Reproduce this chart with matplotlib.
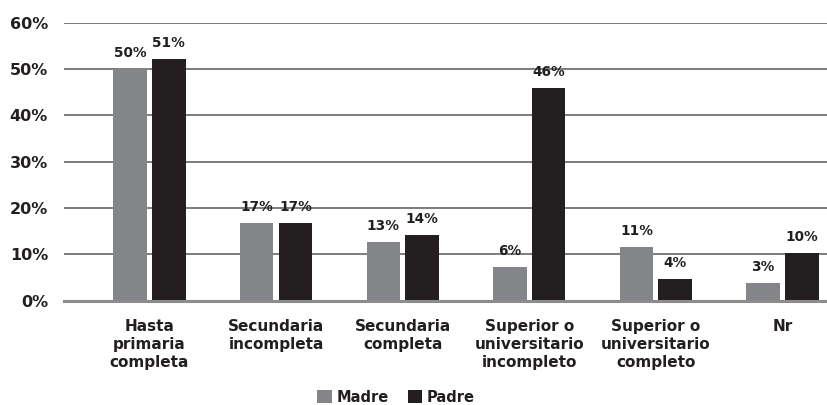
import matplotlib
matplotlib.use("Agg")
import matplotlib.pyplot as plt
import numpy as np

categories = ["Hasta\nprimaria\ncompleta", "Secundaria\nincompleta", "Secundaria\ncompleta",
              "Superior o\nuniversitario\nincompleto", "Superior o\nuniversitario\ncompleto", "Nr"]
madre = [50.0, 16.8, 12.7, 7.3, 11.6, 3.8]
padre = [52.2, 16.8, 14.2, 45.9, 4.7, 10.3]
madre_labels = ["50%", "17%", "13%", "6%", "11%", "3%"]
padre_labels = ["51%", "17%", "14%", "46%", "4%", "10%"]
yticks = [0, 10, 20, 30, 40, 50, 60]
ytick_labels = ["0%", "10%", "20%", "30%", "40%", "50%", "60%"]

plt.rcParams['font.family'] = ['DejaVu Sans']
plt.rcParams['font.weight'] = 'bold'

fig = plt.figure(figsize=(8.28, 4.05), dpi=100)
ax = fig.add_axes([0.0773, 0.2575, 0.9227, 0.6865])

x = np.arange(len(categories))
w = 0.264
off = 0.153
c_m = "#848589"
c_p = "#231f20"

for y in yticks[1:]:
    ax.axhline(y, color="#5a5a5a", lw=1.1, zorder=0)

bm = ax.bar(x - off, madre, w, color=c_m, label="Madre", zorder=2)
bp = ax.bar(x + off, padre, w, color=c_p, label="Padre", zorder=2)

for rect, lab in zip(bm, madre_labels):
    ax.annotate(lab, (rect.get_x() + rect.get_width() / 2, rect.get_height()),
                xytext=(0, 6.5), textcoords="offset points", ha="center", va="bottom",
                fontsize=9.8, fontweight="bold", color="#231f20")
for rect, lab in zip(bp, padre_labels):
    ax.annotate(lab, (rect.get_x() + rect.get_width() / 2, rect.get_height()),
                xytext=(0, 6.5), textcoords="offset points", ha="center", va="bottom",
                fontsize=9.8, fontweight="bold", color="#231f20")

ax.set_ylim(0, 60)
ax.set_xlim(-0.675, 5.36)
ax.set_yticks(yticks)
ax.set_yticklabels(ytick_labels, fontsize=11.5, fontweight="bold", color="#231f20")
ax.set_xticks(x)
ax.set_xticklabels(categories, fontsize=11, fontweight="bold", color="#231f20", linespacing=1.25)
ax.tick_params(axis="both", length=0)
ax.tick_params(axis="y", pad=11.5)
ax.tick_params(axis="x", pad=13)

for s in ["top", "right", "left"]:
    ax.spines[s].set_visible(False)
ax.spines["bottom"].set_color("#8c8c8c")
ax.spines["bottom"].set_linewidth(2.2)
ax.spines["bottom"].set_zorder(3)

leg = fig.legend(handles=[bm, bp], labels=["Madre", "Padre"], loc="center",
                 bbox_to_anchor=(396 / 828, 1 - 397 / 405), ncol=2, frameon=False,
                 prop={"size": 10.5, "weight": "bold"}, handlelength=1.0, handleheight=1.0,
                 handletextpad=0.3, columnspacing=1.3, borderpad=0, borderaxespad=0)
for t in leg.get_texts():
    t.set_color("#231f20")

fig.savefig("out.png", dpi=100)
